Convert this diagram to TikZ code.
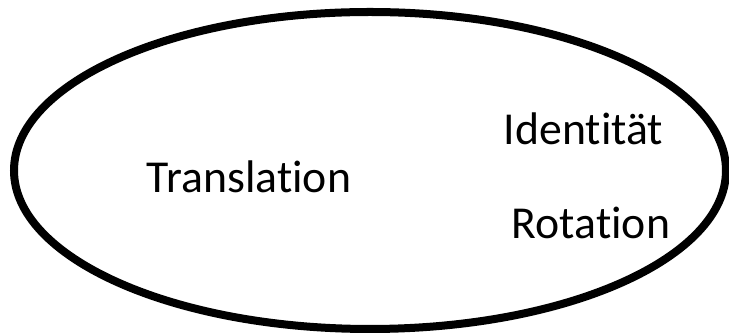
\documentclass[tikz,border=0pt]{standalone}
\usepackage{fontspec}
\setmainfont{Carlito}[Ligatures=NoCommon]

\begin{document}
\begin{tikzpicture}[x=0.01cm, y=-0.01cm,
        word/.style={font=\fontsize{13}{15}\selectfont, inner sep=0pt, anchor=base}]
            \useasboundingbox (0, 0) rectangle (729, 334);

            \draw[line width=0.08cm] (370, 170.5) ellipse [x radius=356, y radius=158.5];

            \node[word] (translation) at (249, 193) {Translation};
            \node[word] (identitaet) at (583.5, 145) {Identität};
            \node[word] (rotation) at (591, 239) {Rotation};
        \end{tikzpicture}
\end{document}
